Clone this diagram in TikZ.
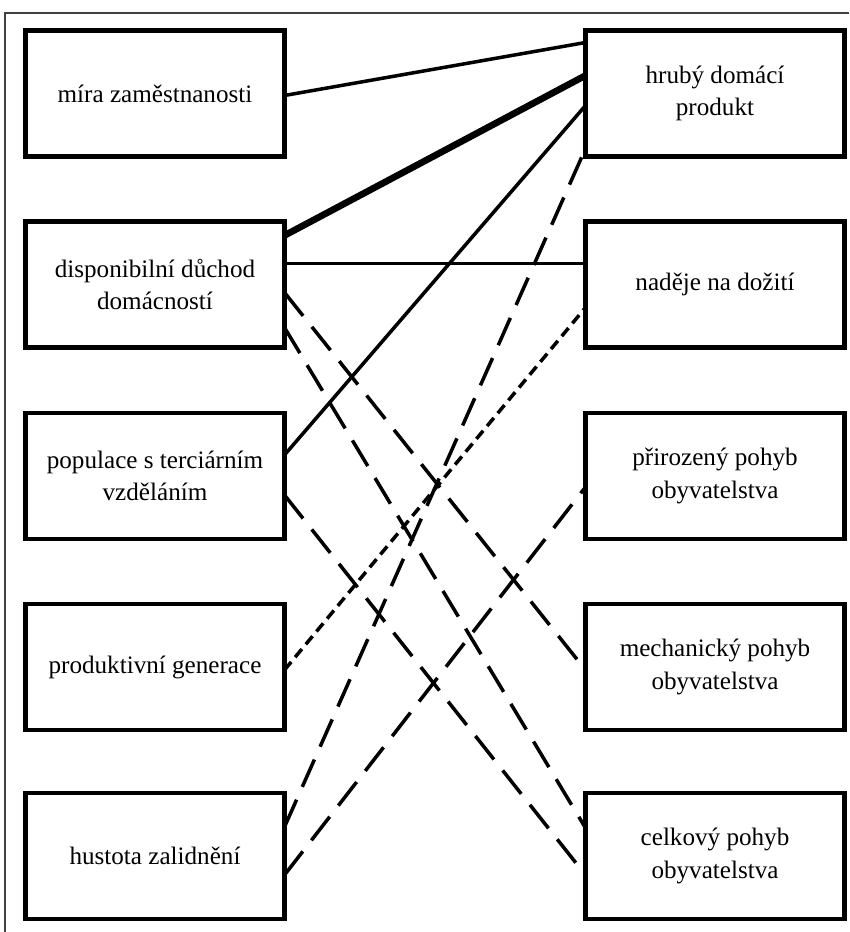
\documentclass[tikz,border=0pt]{standalone}
\usepackage{fontspec}
\setmainfont{Liberation Serif}
\usetikzlibrary{calc}
\tikzset{
	box/.style={draw, line width=2.6pt, minimum width=5.18cm, minimum height=2.52cm,
		align=center, inner sep=0pt, outer sep=0pt, font=\fontsize{14.3}{18.5}\selectfont},
	link/.style={line width=2pt},
	heavylink/.style={line width=3.8pt},
	dashlink/.style={line width=2pt, dash pattern=on 17pt off 8pt},
	shortlink/.style={line width=2pt, dash pattern=on 6pt off 3.5pt},
}
\begin{document}
\begin{tikzpicture}[x=0.02cm,y=-0.02cm]
				\useasboundingbox (0,0) rectangle (849,932);
				\draw[line width=1pt, black!75] (5,932)--(5,13)--(849,13);
				% left column
				\node[box] (mira) at (155,93.5) {míra zaměstnanosti};
				\node[box] (dis) at (155,284.5) {disponibilní důchod\\domácností};
				\node[box] (pop) at (155,476) {populace s terciárním\\vzděláním};
				\node[box] (pro) at (155,667) {produktivní generace};
				\node[box] (hus) at (155,856) {hustota zalidnění};
				% right column
				\node[box] (hdp) at (715,93.5) {hrubý domácí\\produkt};
				\node[box] (nad) at (715,284.5) {naděje na dožití};
				\node[box] (pri) at (715,476) {přirozený pohyb\\obyvatelstva};
				\node[box] (mech) at (715,667) {mechanický pohyb\\obyvatelstva};
				\node[box] (cel) at (715,856) {celkový pohyb\\obyvatelstva};
				% links
				\draw[link] ($(mira.east)+(0,2)$)--($(hdp.west)+(0,-51)$);
				\draw[heavylink] ($(dis.east)+(0,-49)$)--($(hdp.west)+(0,-18)$);
				\draw[link] ($(pop.east)+(0,-21)$)--($(hdp.west)+(0,12)$);
				\draw[dashlink] ($(hus.east)+(0,-29)$)--($(hdp.west)+(0,55)$);
				\draw[link] ($(dis.east)+(0,-21)$)--($(nad.west)+(0,-21)$);
				\draw[shortlink] ($(pro.east)+(0,3)$)--($(nad.west)+(0,23)$);
				\draw[dashlink] ($(hus.east)+(0,19)$)--($(pri.west)+(0,11)$);
				\draw[dashlink] ($(dis.east)+(0,8)$)--($(mech.west)+(0,3)$);
				\draw[dashlink] ($(dis.east)+(0,43)$)--($(cel.west)+(0,-28)$);
				\draw[dashlink] ($(pop.east)+(0,19)$)--($(cel.west)+(0,19)$);
\end{tikzpicture}
\end{document}
